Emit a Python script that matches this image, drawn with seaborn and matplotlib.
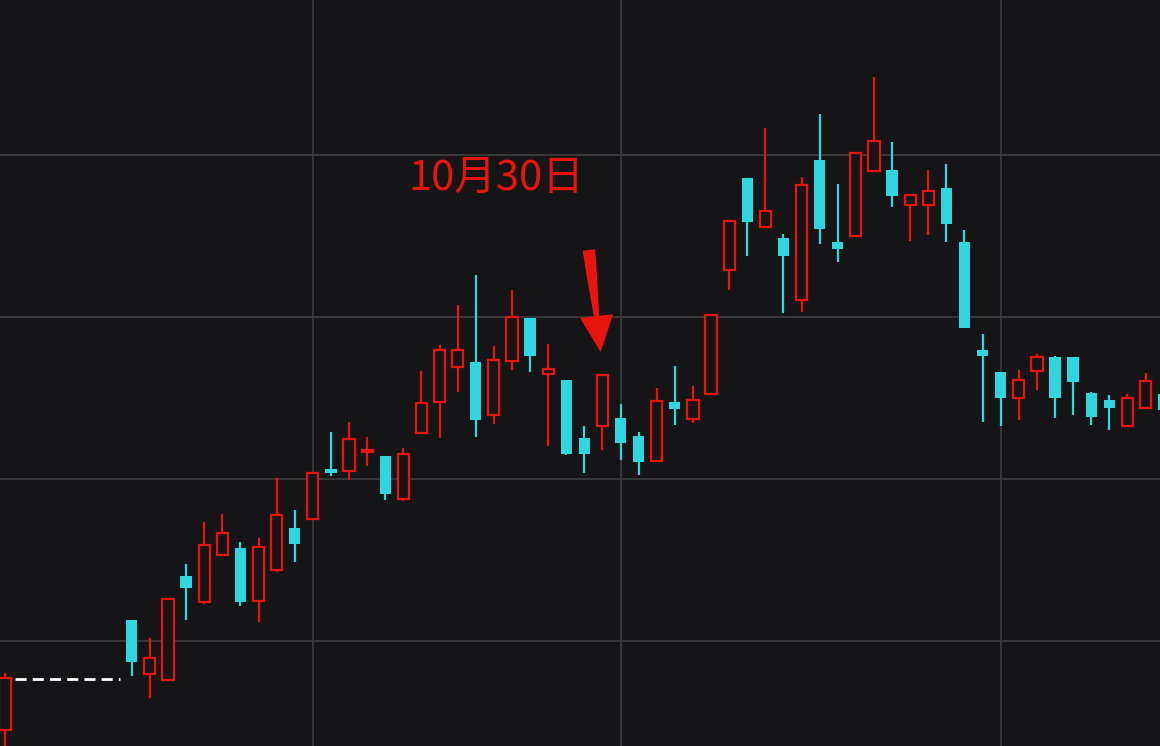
import numpy as np
import pandas as pd
import matplotlib
matplotlib.use("Agg")
import matplotlib.pyplot as plt
import seaborn as sns

sns.set_style("dark")
plt.rcParams['font.family'] = ['Noto Sans CJK SC', 'DejaVu Sans']

idx = [0] + list(range(7, 65))
opens  = [16, 126, 72, 66, 170, 144, 191, 198, 145, 176, 218, 227, 277, 275, 294, 290, 247,
          313, 344, 379, 384, 331, 385, 428, 372, 366, 308, 320, 328, 310, 285, 344, 327, 352,
          476, 568, 519, 508, 446, 586, 504, 510, 575, 576, 541, 541, 558, 504,
          396, 374, 348, 375, 389, 389, 353, 346, 320, 338, 352]
closes = [68, 84, 88, 147, 158, 201, 213, 144, 199, 231, 202, 273, 273, 307, 294, 252, 292,
          343, 396, 396, 326, 386, 429, 390, 377, 292, 292, 371, 303, 284, 345, 337, 346, 431, 525,
          524, 535, 490, 561, 517, 497, 593, 605, 550, 551, 555, 522, 418,
          390, 348, 366, 389, 348, 364, 329, 338, 348, 365, 336]
highs  = [73, 126, 108, 147, 182, 224, 232, 204, 208, 268, 236, 273, 314, 324, 309, 290, 298,
          375, 401, 441, 471, 400, 456, 428, 402, 366, 320, 372, 342, 314, 358, 380, 360, 431, 525,
          568, 618, 512, 569, 632, 562, 593, 669, 604, 551, 576, 582, 516,
          412, 374, 376, 392, 390, 372, 354, 351, 352, 373, 356]
lows   = [-4, 70, 48, 66, 126, 142, 191, 140, 124, 174, 184, 227, 270, 266, 280, 246, 245,
          313, 308, 354, 309, 322, 376, 374, 300, 291, 273, 296, 286, 271, 284, 321, 323, 352, 456,
          490, 519, 433, 434, 502, 484, 510, 575, 539, 505, 511, 504, 418,
          324, 320, 326, 356, 328, 331, 321, 316, 332, 343, 330]

df = pd.DataFrame({"i": idx, "open": opens, "close": closes, "high": highs, "low": lows})
df["up"] = df["close"] >= df["open"]
df["top"] = df[["open", "close"]].max(axis=1)
df["bot"] = df[["open", "close"]].min(axis=1)

RED = "#e8150f"
CYAN = "#2fd6de"
BG = "#151517"

fig = plt.figure(figsize=(11.6, 7.46), dpi=100)
fig.patch.set_facecolor(BG)
ax = fig.add_axes([0, 0, 1, 1])
ax.set_facecolor(BG)

for v in [105, 267, 429, 591]:
    ax.axhline(v, color="#3d3d40", lw=1.2, zorder=0)
for v in [17, 34, 55]:
    ax.axvline(v, color="#3d3d40", lw=1.2, zorder=0)

w = 0.62
up = df[df.up]
dn = df[~df.up]
ax.vlines(up.i, up.top, up.high, color=RED, lw=1.6, zorder=2)
ax.vlines(up.i, up.low, up.bot, color=RED, lw=1.6, zorder=2)
ax.vlines(dn.i, dn.low, dn.high, color=CYAN, lw=1.6, zorder=2)
ax.bar(up.i, np.maximum(up.top - up.bot, 2), bottom=up.bot, width=w,
       facecolor=BG, edgecolor=RED, linewidth=1.6, zorder=3)
ax.bar(dn.i, np.maximum(dn.top - dn.bot, 3), bottom=dn.bot, width=w,
       color=CYAN, linewidth=0, zorder=3)

ax.hlines(67, 0.55, 6.35, color="white", lw=2, linestyles=(0, (4, 2.2)), zorder=2)

ax.text(22.3, 568, "10月30日", color=RED, fontsize=30, ha="left", va="center")
ax.annotate("", xy=(32.9, 394), xytext=(32.25, 496),
            arrowprops=dict(arrowstyle="wedge,tail_width=0.9,shrink_factor=0.6",
                            color=RED, lw=0, shrinkA=0, shrinkB=0))
ax.annotate("", xy=(32.9, 394), xytext=(32.75, 418),
            arrowprops=dict(arrowstyle="simple,head_length=2.6,head_width=2.4,tail_width=0.1",
                            color=RED, lw=0, shrinkA=0, shrinkB=0))

ax.set_xlim(-0.28, 63.8)
ax.set_ylim(0, 746)
ax.set_xticks([]); ax.set_yticks([])
for s in ax.spines.values():
    s.set_visible(False)

fig.savefig("out.png", dpi=100, facecolor=BG)
